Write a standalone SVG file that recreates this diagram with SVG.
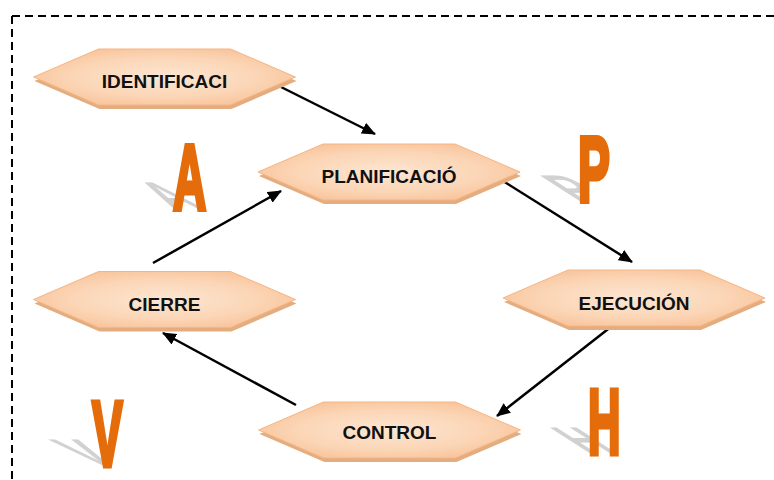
<svg xmlns="http://www.w3.org/2000/svg" width="774" height="480" viewBox="0 0 774 480">
<defs>
  <radialGradient id="hexFill" cx="50%" cy="50%" r="60%">
    <stop offset="0" stop-color="#fde6d2"/>
    <stop offset="0.6" stop-color="#fbd5b5"/>
    <stop offset="1" stop-color="#f8c096"/>
  </radialGradient>
  <polygon id="hex" points="-131,0 -66,-28 66,-28 131,0 66,28 -66,28"/>
  <marker id="arrow" viewBox="0 0 14 12" refX="13" refY="6" markerWidth="14" markerHeight="12" markerUnits="userSpaceOnUse" orient="auto">
    <path d="M0,0 L14,6 L0,12 Z" fill="#000"/>
  </marker>
</defs>
<style>
  .shadow { fill: #e4ad80; }
  .hexbody { fill: url(#hexFill); stroke: #f6b582; stroke-width: 1; }
  .lbl { font-family: "Liberation Sans", Arial, sans-serif; font-weight: bold; font-size: 19px; fill: #111; text-anchor: middle; }
  .big { font-family: "Liberation Sans", Arial, sans-serif; font-weight: bold; font-size: 92px; }
  .bigfg { fill: #e46c0a; stroke: #e46c0a; stroke-width: 5; stroke-linejoin: miter; }
  .bigsh { fill: #b4b4b4; opacity: 0.6; }
  .conn { stroke: #000; stroke-width: 2.5; fill: none; marker-end: url(#arrow); }
</style>
<rect width="774" height="480" fill="#fff"/>
<path d="M12,16 H774 M12,16 V480" fill="none" stroke="#000" stroke-width="2" stroke-dasharray="8 5"/>

<g id="letter-A">
  <text class="big bigsh" transform="translate(173,209) matrix(0.5,0,0.65,0.42,0,0)">A</text>
  <text class="big bigfg" transform="translate(173,209) scale(0.5,1)">A</text>
</g>
<g id="letter-P">
  <text class="big bigsh" transform="translate(578,202) matrix(0.52,0,0.65,0.42,0,0)">P</text>
  <text class="big bigfg" transform="translate(578,202) scale(0.52,1)">P</text>
</g>
<g id="letter-V">
  <text class="big bigsh" transform="translate(92,466) matrix(0.5,0,0.7,0.42,0,0)">V</text>
  <text class="big bigfg" transform="translate(92,466) scale(0.5,1)">V</text>
</g>
<g id="letter-H">
  <text class="big bigsh" transform="translate(588,454) matrix(0.49,0,0.65,0.42,0,0)">H</text>
  <text class="big bigfg" transform="translate(588,454) scale(0.49,1)">H</text>
</g>

<g id="connectors">
  <line class="conn" x1="281" y1="87" x2="375" y2="134"/>
  <line class="conn" x1="153" y1="263" x2="281" y2="191"/>
  <line class="conn" x1="503" y1="181" x2="632" y2="262"/>
  <line class="conn" x1="612" y1="326" x2="497" y2="416"/>
  <line class="conn" x1="296" y1="405" x2="163" y2="333"/>
</g>

<g id="node-identificaci" transform="translate(164.5,77)">
  <use href="#hex" class="shadow" x="1" y="4"/>
  <use href="#hex" class="hexbody"/>
  <text class="lbl" x="0" y="11">IDENTIFICACI</text>
</g>
<g id="node-planificacio" transform="translate(389,172)">
  <use href="#hex" class="shadow" x="1" y="4"/>
  <use href="#hex" class="hexbody"/>
  <text class="lbl" x="0" y="11">PLANIFICACIÓ</text>
</g>
<g id="node-cierre" transform="translate(164.5,299.5)">
  <use href="#hex" class="shadow" x="1" y="4"/>
  <use href="#hex" class="hexbody"/>
  <text class="lbl" x="0" y="11">CIERRE</text>
</g>
<g id="node-ejecucion" transform="translate(634,298)">
  <use href="#hex" class="shadow" x="1" y="4"/>
  <use href="#hex" class="hexbody"/>
  <text class="lbl" x="0" y="12">EJECUCIÓN</text>
</g>
<g id="node-control" transform="translate(389.5,430)">
  <use href="#hex" class="shadow" x="1" y="4"/>
  <use href="#hex" class="hexbody"/>
  <text class="lbl" x="0" y="9">CONTROL</text>
</g>
</svg>
